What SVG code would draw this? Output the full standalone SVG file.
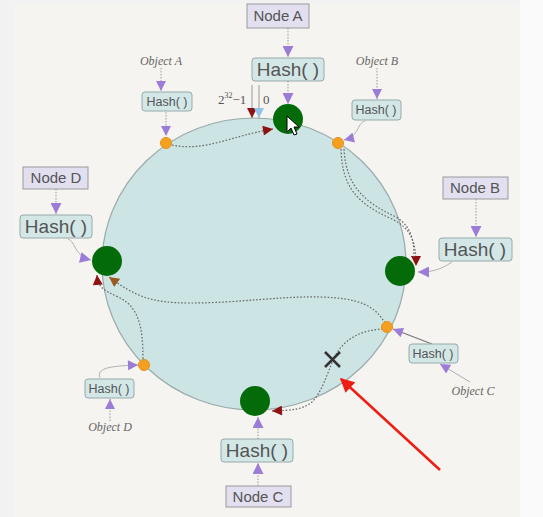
<svg xmlns="http://www.w3.org/2000/svg" width="543" height="517" viewBox="0 0 543 517">
<defs>
<style>
.node{fill:#e2e0f0;stroke:#9a9a9a;stroke-width:1}
.hash{fill:#d3e7e7;stroke:#95aaaa;stroke-width:1}
.nt{font-family:"Liberation Sans",Arial,sans-serif;font-size:15px;fill:#555;text-anchor:middle}
.ht{font-family:"Liberation Sans",Arial,sans-serif;font-size:19px;fill:#555;text-anchor:middle}
.hs{font-family:"Liberation Sans",Arial,sans-serif;font-size:12.5px;fill:#555;text-anchor:middle}
.ot{font-family:"Liberation Serif","Times New Roman",serif;font-style:italic;font-size:12px;fill:#666;text-anchor:middle}
.dot{fill:none;stroke:#999;stroke-width:1;stroke-dasharray:1.5 1.5}
.thin{fill:none;stroke:#b0b0b0;stroke-width:1}
.ring{fill:none;stroke:#666;stroke-width:1.2;stroke-dasharray:1.6 1.8}
.gn{fill:#036b08}
.od{fill:#f5a021;stroke:#e8901a;stroke-width:1}
</style>
<marker id="pa" viewBox="0 0 10 10" refX="10" refY="5" markerWidth="12" markerHeight="11" markerUnits="userSpaceOnUse" orient="auto"><path d="M0,0 L10,5 L0,10 z" fill="#9b7cd6"/></marker>
<marker id="ps" viewBox="0 0 10 10" refX="10" refY="5" markerWidth="11" markerHeight="10" markerUnits="userSpaceOnUse" orient="auto"><path d="M0,0 L10,5 L0,10 z" fill="#9b7cd6"/></marker>
<marker id="ra" viewBox="0 0 10 10" refX="10" refY="5" markerWidth="11" markerHeight="10" markerUnits="userSpaceOnUse" orient="auto"><path d="M0,0 L10,5 L0,10 z" fill="#8e1212"/></marker>
<marker id="ba" viewBox="0 0 10 10" refX="10" refY="5" markerWidth="11" markerHeight="10" markerUnits="userSpaceOnUse" orient="auto"><path d="M0,0 L10,5 L0,10 z" fill="#9b5a1e"/></marker>
<marker id="bl" viewBox="0 0 10 10" refX="10" refY="5" markerWidth="11" markerHeight="10" markerUnits="userSpaceOnUse" orient="auto"><path d="M0,0 L10,5 L0,10 z" fill="#8ec4ec"/></marker>
<marker id="red" viewBox="0 0 10 10" refX="9" refY="5" markerWidth="16" markerHeight="14" markerUnits="userSpaceOnUse" orient="auto"><path d="M0,0 L10,5 L0,10 z" fill="#ee1c12"/></marker>
</defs>
<rect x="0" y="0" width="543" height="517" fill="#f2f2f2"/>
<rect x="14" y="4" width="506" height="513" fill="#f6f4f0"/>
<rect x="520" y="0" width="23" height="517" fill="#fafafa"/>

<g id="ring">
<ellipse cx="254" cy="264" rx="152" ry="146" fill="#cde4e4" stroke="#9aa" stroke-width="1.2"/>
</g>

<g id="connectors">
<path class="dot" d="M288,28 L288,57" marker-end="url(#pa)"/>
<path class="dot" d="M288,81 L288,104" marker-end="url(#pa)"/>
<path class="dot" d="M476,199 L476,237" marker-end="url(#pa)"/>
<path class="thin" d="M452,262 C440,270 432,272 418,272" marker-end="url(#pa)"/>
<path class="dot" d="M56,189 L56,214" marker-end="url(#pa)"/>
<path class="thin" d="M68,239 C76,242 74,256 91,260" marker-end="url(#pa)"/>
<path class="dot" d="M258,486 L258,463" marker-end="url(#pa)"/>
<path class="dot" d="M258,439 L258,417" marker-end="url(#pa)"/>
<path class="dot" d="M161,68 L161,91" marker-end="url(#ps)"/>
<path class="dot" d="M166,112 L166,136" marker-end="url(#ps)"/>
<path class="dot" d="M377,68 L377,99" marker-end="url(#ps)"/>
<path class="thin" d="M365,121 C356,124 360,136 344,140" marker-end="url(#ps)"/>
<path class="thin" d="M470,382 L440,364" marker-end="url(#ps)"/>
<path d="M432,344 L393,329" fill="none" stroke="#777" stroke-width="1.2" marker-end="url(#ps)"/>
<path class="dot" d="M110,421 L110,399" marker-end="url(#ps)"/>
<path class="thin" d="M100,378 C96,368 110,366 138,365" marker-end="url(#ps)"/>
<path class="ring" d="M172,145 C205,152 230,136 273,129" marker-end="url(#ra)"/>
<path class="ring" d="M341,149 C342,188 358,204 392,219 C413,229 416,245 416,266" marker-end="url(#ra)"/>
<path class="ring" d="M344,149 C346,186 364,202 396,217 C413,227 414,244 414,258"/>
<path class="ring" d="M385,323 C375,306 360,298 320,297 C280,296 240,303 190,303 C150,303 135,296 109,277" marker-end="url(#ba)"/>
<path class="ring" d="M383,329 C362,330 345,338 335,356 C326,376 322,392 312,402 C302,410 292,410 272,411" marker-end="url(#ra)"/>
<path class="ring" d="M143,359 C143,325 138,306 118,297 C104,290 98,288 97,275" marker-end="url(#ra)"/>
<path d="M252,85 L252,118" stroke="#999" stroke-width="1" fill="none" marker-end="url(#ra)"/>
<path d="M259,85 L259,118" stroke="#999" stroke-width="1" fill="none" marker-end="url(#bl)"/>
<path d="M440,470 L341,379" stroke="#ee1c12" stroke-width="2.5" fill="none" marker-end="url(#red)"/>
</g>

<g id="labels-ring">
<text x="218" y="104" font-family="Liberation Serif,serif" font-size="13" fill="#555">2<tspan font-size="8" dy="-6">32</tspan><tspan dy="6">−1</tspan></text>
<text x="263" y="104" font-family="Liberation Serif,serif" font-size="13" fill="#555">0</text>
</g>

<g id="nodeA">
<rect class="node" x="247" y="4" width="62" height="24"/>
<text class="nt" x="278" y="21">Node A</text>
<rect class="hash" x="252" y="58" width="72" height="23" rx="3"/>
<text class="ht" x="288" y="76">Hash( )</text>
<circle class="gn" cx="288" cy="119" r="15"/>
</g>
<g id="nodeB">
<rect class="node" x="443" y="177" width="65" height="22"/>
<text class="nt" x="475" y="193">Node B</text>
<rect class="hash" x="439" y="238" width="73" height="23" rx="3"/>
<text class="ht" x="475" y="256">Hash( )</text>
<circle class="gn" cx="400" cy="271" r="15"/>
</g>
<g id="nodeC">
<rect class="node" x="226" y="486" width="65" height="21"/>
<text class="nt" x="258" y="502">Node C</text>
<rect class="hash" x="221" y="439" width="72" height="23" rx="3"/>
<text class="ht" x="257" y="457">Hash( )</text>
<circle class="gn" cx="255" cy="401" r="15"/>
</g>
<g id="nodeD">
<rect class="node" x="23" y="167" width="65" height="22"/>
<text class="nt" x="56" y="183">Node D</text>
<rect class="hash" x="20" y="215" width="72" height="23" rx="3"/>
<text class="ht" x="56" y="233">Hash( )</text>
<circle class="gn" cx="107" cy="261" r="15"/>
</g>
<g id="objectA">
<text class="ot" x="161" y="65">Object A</text>
<rect class="hash" x="142" y="92" width="50" height="19" rx="3"/>
<text class="hs" x="167" y="106">Hash( )</text>
<circle class="od" cx="166" cy="143" r="5.5"/>
</g>
<g id="objectB">
<text class="ot" x="377" y="65">Object B</text>
<rect class="hash" x="352" y="100" width="49" height="20" rx="3"/>
<text class="hs" x="376" y="114">Hash( )</text>
<circle class="od" cx="338" cy="143" r="5.5"/>
</g>
<g id="objectC">
<text class="ot" x="473" y="395">Object C</text>
<rect class="hash" x="409" y="344" width="49" height="19" rx="3"/>
<text class="hs" x="433" y="358">Hash( )</text>
<circle class="od" cx="387" cy="327" r="5.5"/>
</g>
<g id="objectD">
<text class="ot" x="110" y="431">Object D</text>
<rect class="hash" x="85" y="379" width="49" height="19" rx="3"/>
<text class="hs" x="109" y="393">Hash( )</text>
<circle class="od" cx="144" cy="365" r="5.5"/>
</g>
<g id="cross">
<path d="M325,352 L340,367 M340,352 L325,367" stroke="#333" stroke-width="2.5" fill="none"/>
</g>
<g id="cursor">
<path d="M287,116 L287,132 L291,128 L294,135 L297,134 L294,127 L299,127 z" fill="#fff" stroke="#000" stroke-width="1"/>
</g>
</svg>
